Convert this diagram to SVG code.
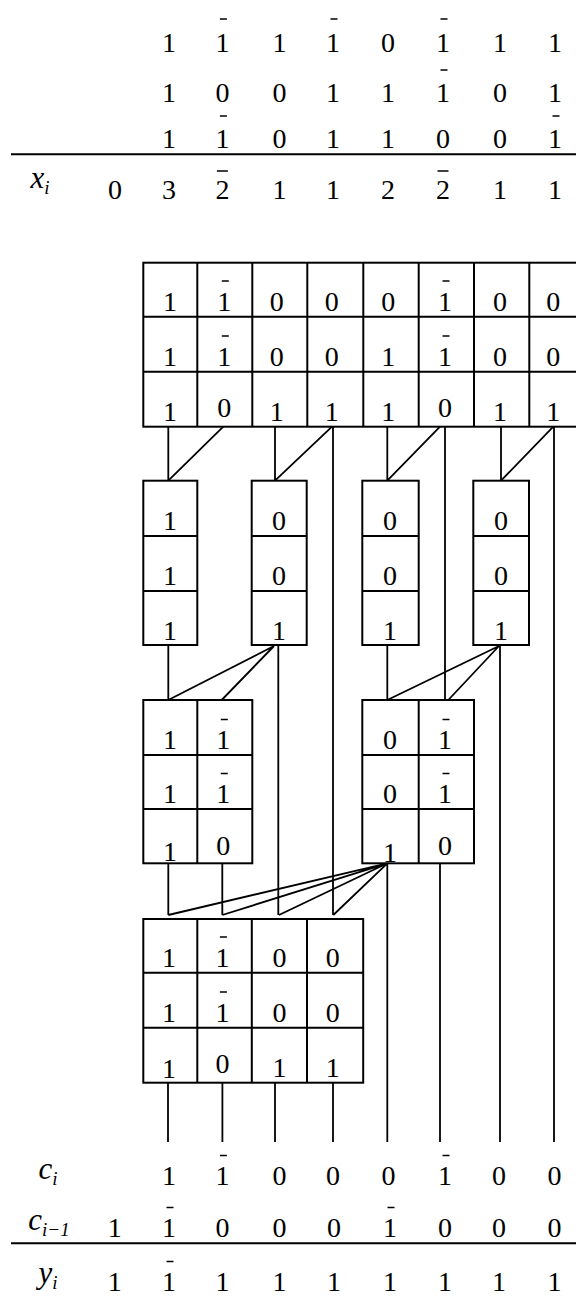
<svg xmlns="http://www.w3.org/2000/svg" xmlns:xlink="http://www.w3.org/1999/xlink" width="576" height="1296" viewBox="0 0 576 1296" font-family="'Liberation Serif', 'Times New Roman', serif">
<style>
.d{font-family:"Liberation Serif","Times New Roman",serif;font-size:28px;text-anchor:middle;fill:#000}
.lb{font-family:"Liberation Serif","Times New Roman",serif;font-size:31px;font-style:italic;text-anchor:middle;fill:#000}
.sub{font-size:19px}
.box{fill:none;stroke:#000;stroke-width:2}
.c{fill:none;stroke:#000;stroke-width:1.8}
.rule{stroke:#000;stroke-width:2}
</style>
<defs>
<line id="b1" x1="-3" y1="0" x2="4" y2="0" stroke="#000" stroke-width="1.5"/>
<line id="b2" x1="-5.5" y1="0" x2="5.5" y2="0" stroke="#000" stroke-width="1.5"/>
</defs>
<rect width="576" height="1296" fill="#fff"/>

<g id="sum-table">
<g class="d">
<text x="169" y="52">1</text><text x="222.4" y="52">1</text><text x="279.4" y="52">1</text><text x="333" y="52">1</text><text x="388" y="52">0</text><text x="443" y="52">1</text><text x="500" y="52">1</text><text x="555" y="52">1</text>
<text x="169" y="102">1</text><text x="222.4" y="102">0</text><text x="279.4" y="102">0</text><text x="333" y="102">1</text><text x="388" y="102">1</text><text x="443" y="102">1</text><text x="500" y="102">0</text><text x="555" y="102">1</text>
<text x="169" y="148">1</text><text x="222.4" y="148">1</text><text x="279.4" y="148">0</text><text x="333" y="148">1</text><text x="388" y="148">1</text><text x="443" y="148">0</text><text x="500" y="148">0</text><text x="555" y="148">1</text>
<text x="115" y="199">0</text><text x="169" y="199">3</text><text x="222.4" y="199">2</text><text x="279.4" y="199">1</text><text x="333" y="199">1</text><text x="388" y="199">2</text><text x="443" y="199">2</text><text x="500" y="199">1</text><text x="555" y="199">1</text>
</g>
<use xlink:href="#b1" x="222.9" y="19"/><use xlink:href="#b1" x="333.5" y="19"/><use xlink:href="#b1" x="443.5" y="19"/>
<use xlink:href="#b1" x="443.5" y="70"/>
<use xlink:href="#b1" x="222.9" y="116"/><use xlink:href="#b1" x="555.5" y="116"/>
<use xlink:href="#b2" x="222.4" y="171"/><use xlink:href="#b2" x="443" y="171"/>
<line class="rule" x1="11" y1="154.3" x2="576" y2="154.3"/>
<text class="lb" x="40" y="188">x<tspan class="sub" dy="6">i</tspan></text>
</g>

<g id="grid-top">
<rect class="box" x="143.3" y="262.7" width="441" height="164"/>
<path class="box" d="M197.3,262.7V426.7M252.3,262.7V426.7M307.3,262.7V426.7M363.3,262.7V426.7M418.7,262.7V426.7M474,262.7V426.7M529.3,262.7V426.7M143.3,316.7H584.3M143.3,371.7H584.3"/>
<g class="d">
<text x="170" y="310.7">1</text><text x="224.3" y="310.7">1</text><text x="276.7" y="310.7">0</text><text x="331.7" y="310.7">0</text><text x="388.3" y="310.7">0</text><text x="445" y="310.7">1</text><text x="500" y="310.7">0</text><text x="553.3" y="310.7">0</text>
<text x="170" y="365.7">1</text><text x="224.3" y="365.7">1</text><text x="276.7" y="365.7">0</text><text x="331.7" y="365.7">0</text><text x="388.3" y="365.7">1</text><text x="445" y="365.7">1</text><text x="500" y="365.7">0</text><text x="553.3" y="365.7">0</text>
<text x="170" y="420.7">1</text><text x="224.3" y="417">0</text><text x="276.7" y="420.7">1</text><text x="331.7" y="420.7">1</text><text x="388.3" y="420.7">1</text><text x="445" y="417">0</text><text x="500" y="420.7">1</text><text x="553.3" y="420.7">1</text>
</g>
<use xlink:href="#b1" x="224.8" y="281"/><use xlink:href="#b1" x="445.5" y="281"/>
<use xlink:href="#b1" x="224.8" y="336"/><use xlink:href="#b1" x="445.5" y="336"/>
</g>

<g id="box-a">
<rect class="box" x="143.3" y="480.7" width="54" height="164.3"/>
<path class="box" d="M143.3,536H197.3M143.3,591H197.3"/>
<g class="d"><text x="170" y="530">1</text><text x="170" y="585">1</text><text x="170" y="640">1</text></g>
</g>
<g id="box-b">
<rect class="box" x="251.7" y="480.7" width="55" height="164.3"/>
<path class="box" d="M251.7,536H306.7M251.7,591H306.7"/>
<g class="d"><text x="279" y="530">0</text><text x="279" y="585">0</text><text x="279" y="640">1</text></g>
</g>
<g id="box-c">
<rect class="box" x="362.3" y="480.7" width="56.4" height="164.3"/>
<path class="box" d="M362.3,536H418.7M362.3,591H418.7"/>
<g class="d"><text x="390" y="530">0</text><text x="390" y="585">0</text><text x="390" y="640">1</text></g>
</g>
<g id="box-d">
<rect class="box" x="473.3" y="480.7" width="55.7" height="164.3"/>
<path class="box" d="M473.3,536H529M473.3,591H529"/>
<g class="d"><text x="501" y="530">0</text><text x="501" y="585">0</text><text x="501" y="640">1</text></g>
</g>

<g id="box-e">
<rect class="box" x="143.3" y="700" width="109" height="163.3"/>
<path class="box" d="M197.3,700V863.3M143.3,755H252.3M143.3,809H252.3"/>
<g class="d"><text x="170" y="749">1</text><text x="223.3" y="749">1</text><text x="170" y="803">1</text><text x="223.3" y="803">1</text><text x="170" y="861">1</text><text x="223.3" y="855">0</text></g>
<use xlink:href="#b1" x="223.8" y="719.5"/><use xlink:href="#b1" x="223.8" y="773.5"/>
</g>
<g id="box-f">
<rect class="box" x="362.3" y="700" width="111.7" height="163.3"/>
<path class="box" d="M418.7,700V863.3M362.3,755H474M362.3,809H474"/>
<g class="d"><text x="390" y="749">0</text><text x="445" y="749">1</text><text x="390" y="803">0</text><text x="445" y="803">1</text><text x="390" y="862">1</text><text x="445" y="855">0</text></g>
<use xlink:href="#b1" x="445.5" y="719.5"/><use xlink:href="#b1" x="445.5" y="773.5"/>
</g>

<g id="grid-final">
<rect class="box" x="143.3" y="919" width="219.9" height="163.7"/>
<path class="box" d="M197.3,919V1082.7M251.8,919V1082.7M307,919V1082.7M143.3,972.7H363.2M143.3,1027.7H363.2"/>
<g class="d">
<text x="169" y="966.7">1</text><text x="222.4" y="966.7">1</text><text x="279.4" y="966.7">0</text><text x="332.7" y="966.7">0</text>
<text x="169" y="1021.7">1</text><text x="222.4" y="1021.7">1</text><text x="279.4" y="1021.7">0</text><text x="332.7" y="1021.7">0</text>
<text x="169" y="1078">1</text><text x="222.4" y="1073">0</text><text x="279.4" y="1077">1</text><text x="332.7" y="1077">1</text>
</g>
<use xlink:href="#b1" x="222.9" y="937"/><use xlink:href="#b1" x="222.9" y="992"/>
</g>

<g id="connectors" class="c">
<path d="M168.3,426.7V480.7M223.3,426.7L168.3,480.7M275,426.7V480.7M332,426.7L275,480.7M333,426.7V915M387.3,426.7V480.7M440,426.7L387.3,480.7M445,426.7V700M501,426.7V480.7M553.3,426.7L501,480.7M554,426.7V1142"/>
<path d="M168.3,645V700M274,646L168.3,700M274,646L221.7,700M278.3,645V915M387.3,645V700M499,646L387.3,700M499,646L448.3,700M500,645V1142"/>
<path d="M168.3,863.3V915M222.3,863.3V915M387.3,863.3L168.3,915M387.3,863.3L222.3,915M387.3,863.3L279,915M387.3,863.3L333.3,915M387.3,863.3V1142M440,863.3V1142"/>
<path d="M168,1082.7V1142M222.4,1082.7V1142M275,1082.7V1142M333,1082.7V1142"/>
</g>

<g id="result-table">
<text class="lb" x="48" y="1179">c<tspan class="sub" dy="6">i</tspan></text>
<text class="lb" x="49" y="1230">c<tspan class="sub" dy="6">i−1</tspan></text>
<text class="lb" x="48" y="1283">y<tspan class="sub" dy="6">i</tspan></text>
<g class="d">
<text x="169" y="1185">1</text><text x="222.4" y="1185">1</text><text x="279.4" y="1185">0</text><text x="333" y="1185">0</text><text x="388.6" y="1185">0</text><text x="445" y="1185">1</text><text x="499" y="1185">0</text><text x="554.4" y="1185">0</text>
<text x="114.7" y="1237">1</text><text x="169" y="1237">1</text><text x="222.4" y="1237">0</text><text x="279.4" y="1237">0</text><text x="334" y="1237">0</text><text x="390" y="1237">1</text><text x="445" y="1237">0</text><text x="499" y="1237">0</text><text x="554.4" y="1237">0</text>
<text x="114.7" y="1291">1</text><text x="169" y="1291">1</text><text x="222.4" y="1291">1</text><text x="279.4" y="1291">1</text><text x="334" y="1291">1</text><text x="390" y="1291">1</text><text x="445" y="1291">1</text><text x="499" y="1291">1</text><text x="554.4" y="1291">1</text>
</g>
<use xlink:href="#b1" x="222.9" y="1155.5"/><use xlink:href="#b1" x="445.5" y="1155.5"/>
<use xlink:href="#b1" x="169.5" y="1207.5"/><use xlink:href="#b1" x="390.5" y="1207.5"/>
<use xlink:href="#b1" x="169.5" y="1261.5"/>
<line class="rule" x1="11" y1="1243.3" x2="576" y2="1243.3"/>
</g>
</svg>
